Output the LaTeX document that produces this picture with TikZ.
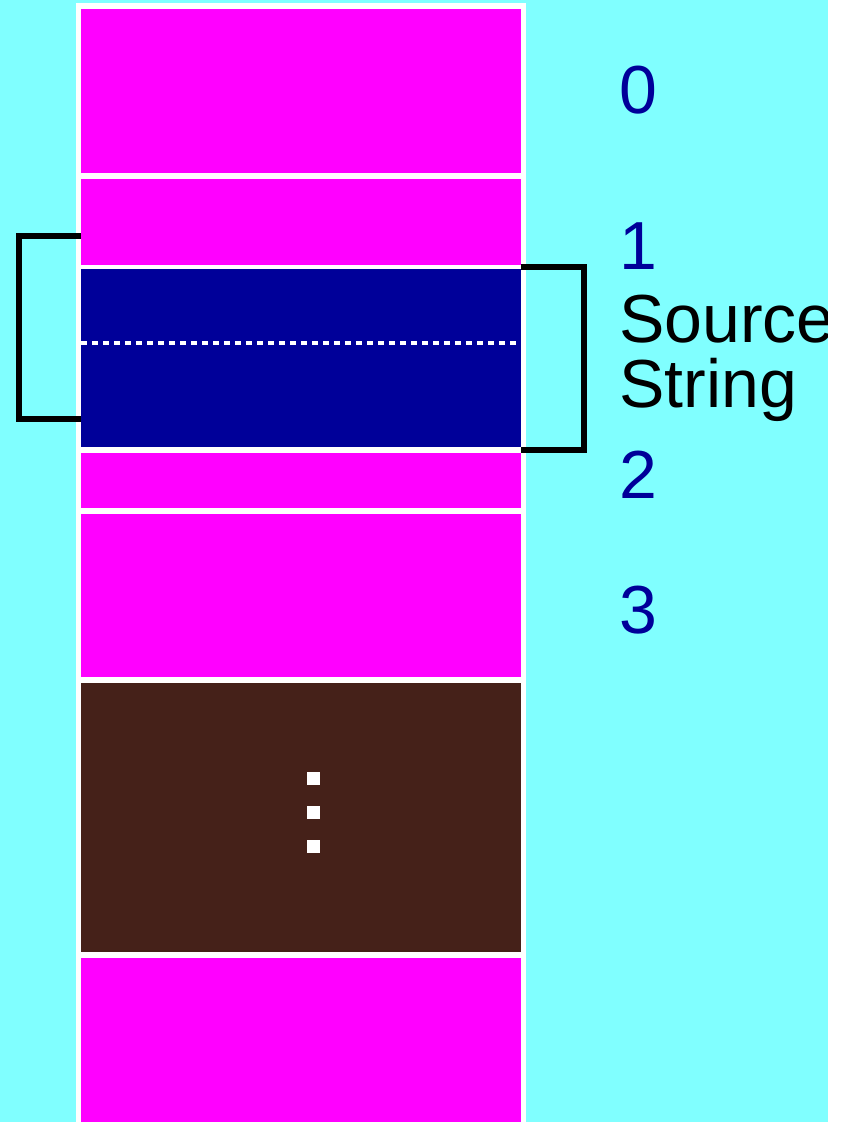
\documentclass[tikz,border=0pt]{standalone}
\usepackage{fontspec}
\setmainfont{Liberation Sans}
\definecolor{sky}{HTML}{80FFFF}
\definecolor{cellpink}{HTML}{FF00FF}
\definecolor{cellnavy}{HTML}{000099}
\definecolor{cellbrown}{HTML}{452119}
\begin{document}
\begin{tikzpicture}[x=1pt,y=-1pt,
  cell/.style={draw=none,inner sep=0pt,outer sep=0pt,minimum width=440pt},
  idx/.style={inner sep=0pt,anchor=base west,text=cellnavy,font=\fontsize{68}{68}\selectfont},
  lbl/.style={inner sep=0pt,anchor=base west,text=black,font=\fontsize{68}{68}\selectfont},
  brk/.style={draw=black,line width=6pt,line join=miter},
  dotsq/.style={fill=white,draw=none,inner sep=0pt,minimum size=13pt}]
  % page and background
  \fill[white] (0,0) rectangle (848,1122);
  \fill[sky] (0,0) rectangle (828,1122);
  \useasboundingbox (0,0) rectangle (848,1122);
  % white frame of the column
  \fill[white] (76,3) rectangle (526,1122);
  % cells of the column
  \node[cell,fill=cellpink,minimum height=164pt] (c0) at (301,91) {};
  \node[cell,fill=cellpink,minimum height=86pt] (c1) at (301,222) {};
  \node[cell,fill=cellnavy,minimum height=178pt] (src) at (301,358) {};
  \node[cell,fill=cellpink,minimum height=55pt] (c2) at (301,480.5) {};
  \node[cell,fill=cellpink,minimum height=163pt] (c3) at (301,595.5) {};
  \node[cell,fill=cellbrown,minimum height=269pt] (gap) at (301,817.5) {};
  \node[cell,fill=cellpink,minimum height=170pt] (c4) at (301,1043) {};
  % dotted divider inside the source string
  \coordinate (dl) at (81,343);
  \coordinate (dr) at (521,343);
  \draw[white,line width=4.5pt,dash pattern=on 6pt off 5pt] (dl) -- (dr);
  % vertical ellipsis
  \node[dotsq] (d1) at (313,778) {};
  \node[dotsq] (d2) at (313,812) {};
  \node[dotsq] (d3) at (313,846) {};
  % brackets
  \coordinate (la) at (81,236);
  \coordinate (lb) at (81,419);
  \draw[brk] (la) -- ++(-62,0) |- (lb);
  \coordinate (ra) at (521,267);
  \coordinate (rb) at (521,450);
  \draw[brk] (ra) -- ++(63,0) |- (rb);
  % index labels
  \node[idx] (n0) at (619,113) {0};
  \node[idx] (n1) at (619,269) {1};
  \node[lbl] (s1) at (619,342) {Source};
  \node[lbl] (s2) at (619,407) {String};
  \node[idx] (n2) at (619,498) {2};
  \node[idx] (n3) at (619,633) {3};
  % clip the label at the edge of the coloured area
  \fill[white] (828,0) rectangle (848,1122);
\end{tikzpicture}
\end{document}
